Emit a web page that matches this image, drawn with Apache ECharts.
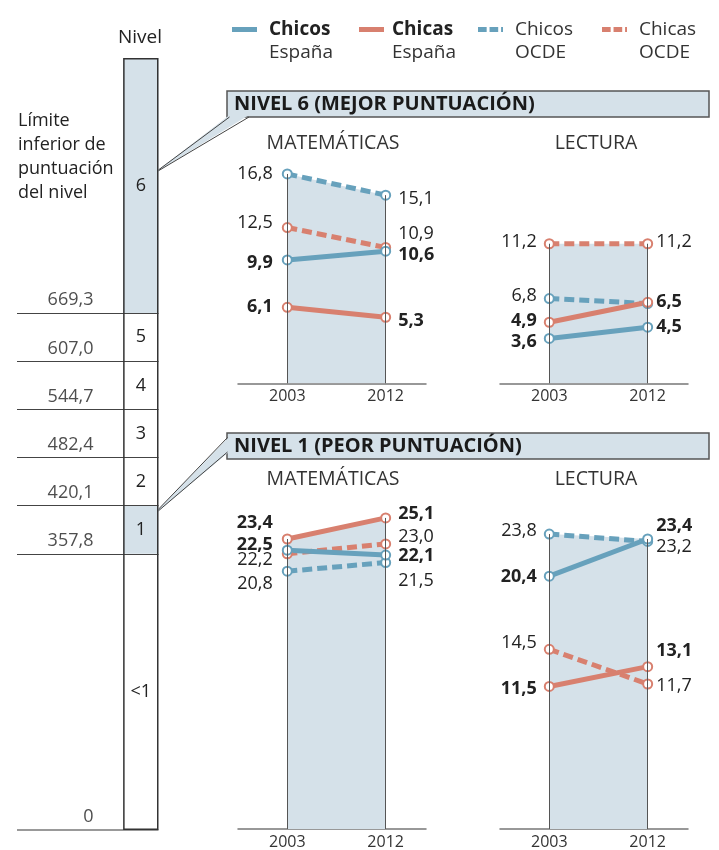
<!DOCTYPE html>
<html><head><meta charset="utf-8">
<script src="https://cdn.jsdelivr.net/npm/echarts@6/dist/echarts.min.js"></script>
<style>html,body{margin:0;padding:0;background:#fff}#c{width:719px;height:850px}</style>
</head><body><div id="c"></div>
<script>
// ---------- DATA ----------
const levelNames = ['<1', '1', '2', '3', '4', '5', '6'];
const levelLower = [0, 357.8, 420.1, 482.4, 544.7, 607.0, 669.3];
const levelScaleMax = 1000;
const highlightedLevels = ['1', '6'];

const years = [2003, 2012];
const seriesNames = ['Chicos España', 'Chicas España', 'Chicos OCDE', 'Chicas OCDE'];

// Nivel 6 – Matemáticas
const n6MatChicosEsp = [9.9, 10.6];
const n6MatChicasEsp = [6.1, 5.3];
const n6MatChicosOcde = [16.8, 15.1];
const n6MatChicasOcde = [12.5, 10.9];
// Nivel 6 – Lectura
const n6LecChicosEsp = [3.6, 4.5];
const n6LecChicasEsp = [4.9, 6.5];
const n6LecChicosOcde = [6.8, 6.4];
const n6LecChicasOcde = [11.2, 11.2];
// Nivel 1 – Matemáticas
const n1MatChicosEsp = [22.5, 22.1];
const n1MatChicasEsp = [23.4, 25.1];
const n1MatChicosOcde = [20.8, 21.5];
const n1MatChicasOcde = [22.2, 23.0];
// Nivel 1 – Lectura
const n1LecChicosEsp = [20.4, 23.4];
const n1LecChicasEsp = [11.5, 13.1];
const n1LecChicosOcde = [23.8, 23.2];
const n1LecChicasOcde = [14.5, 11.7];

// ---------- LAYOUT / STYLE ----------
const FONT = '"Open Sans", "Noto Sans", sans-serif';
const BLUE = '#67a1bc', RED = '#d8806f', SHADE = '#d5e1e9', INK = '#222';
const colors = [BLUE, RED, BLUE, RED];
const isEsp = [true, true, false, false];
const legendLefts = [232, 359, 478, 602];

const panels = [
  { grid: {left: 238, top: 134.1, width: 188, height: 249.2}, ymax: 20,
    data: [n6MatChicosEsp, n6MatChicasEsp, n6MatChicosOcde, n6MatChicasOcde],
    offsets: [[3, 4], [0, 4], [0, 4], [-5, -14]], dist: [9, 7], hide: [] },
  { grid: {left: 500, top: 134.1, width: 188, height: 249.2}, ymax: 20,
    data: [n6LecChicosEsp, n6LecChicasEsp, n6LecChicosOcde, n6LecChicasOcde],
    offsets: [[3, 0], [-1.5, 0], [-3, 0], [-2, -2]], dist: [7, 3], hide: ['2-1'] },
  { grid: {left: 238, top: 457.2, width: 188, height: 373.8}, ymax: 30,
    data: [n1MatChicosEsp, n1MatChicasEsp, n1MatChicosOcde, n1MatChicasOcde],
    offsets: [[-5.6, 1], [-16, -4], [13, 18], [6, -7]], dist: [9, 7], hide: [] },
  { grid: {left: 500, top: 457.2, width: 188, height: 373.8}, ymax: 30,
    data: [n1LecChicosEsp, n1LecChicasEsp, n1LecChicosOcde, n1LecChicasOcde],
    offsets: [[1, -13], [2, -16], [-3, 5], [-6, 2]], dist: [7, 3], hide: [] }
];

const fmt = v => (v === 0 ? '0' : v.toFixed(1).replace('.', ','));

// ---------- BUILD ----------
const grids = [{left: 17, top: 58, width: 141.5, height: 772}];
const xAxes = [{gridIndex: 0, type: 'category', data: ['a', 'b', 'c', 'd'], show: false}];
const yAxes = [{gridIndex: 0, type: 'value', min: 0, max: levelScaleMax, show: false}];
const series = [];

// level column (stacked bars, borders drawn by mark lines + outline bar)
levelNames.forEach((name, i) => {
  const upper = i + 1 < levelLower.length ? levelLower[i + 1] : levelScaleMax;
  series.push({
    type: 'bar', name: 'nivel ' + name, stack: 'niveles', xAxisIndex: 0, yAxisIndex: 0,
    barWidth: '100%', barGap: '-100%',
    data: ['-', '-', '-', upper - levelLower[i]],
    itemStyle: {color: highlightedLevels.includes(name) ? SHADE : '#fff', borderWidth: 0},
    label: {show: true, position: 'inside', formatter: () => name, fontSize: 18, color: INK, fontFamily: FONT},
    silent: true, z: 2
  });
});
// outline of the column
series.push({
  type: 'bar', name: 'contorno', xAxisIndex: 0, yAxisIndex: 0, barWidth: '100%', barGap: '-100%',
  data: ['-', '-', '-', levelScaleMax],
  itemStyle: {color: 'rgba(0,0,0,0)', borderColor: '#333', borderWidth: 1.5},
  silent: true, z: 4
});
// threshold lines + labels
series.push({
  type: 'scatter', name: 'umbrales', xAxisIndex: 0, yAxisIndex: 0,
  data: levelLower.map(v => [2, v]), symbolSize: 0,
  label: {show: true, position: 'left', distance: 12, offset: [0, -13],
    formatter: p => fmt(p.value[1]), fontSize: 18, color: INK, fontFamily: FONT},
  markLine: {
    silent: true, symbol: ['none', 'none'], label: {show: false}, z: 3,
    data: levelLower.map(v => ({yAxis: v, lineStyle: {color: v === 0 ? '#999' : '#444', width: v === 0 ? 2 : 1.2, type: 'solid'}}))
  },
  silent: true, z: 3
});

panels.forEach((p, k) => {
  const gi = k + 1;
  grids.push(p.grid);
  xAxes.push({
    gridIndex: gi, type: 'value', min: 1998.49, max: 2015.69,
    axisLine: {show: true, lineStyle: {color: '#777', width: 1.5}},
    axisTick: {show: false}, splitLine: {show: false},
    axisLabel: {customValues: years, formatter: v => String(v), fontSize: 16, color: '#333', margin: 5, fontFamily: FONT}
  });
  yAxes.push({gridIndex: gi, type: 'value', min: 0, max: p.ymax, show: false});
  const env = years.map((y, j) => Math.max(...p.data.map(d => d[j])));
  series.push({
    type: 'line', name: 'sombra' + k, xAxisIndex: gi, yAxisIndex: gi,
    data: years.map((y, j) => [y, env[j]]), symbol: 'none',
    lineStyle: {width: 0, opacity: 0}, areaStyle: {color: SHADE, opacity: 1},
    silent: true, z: 1,
    markLine: {
      silent: true, symbol: ['none', 'none'], label: {show: false},
      lineStyle: {color: '#555', width: 1, type: 'solid'},
      data: years.map((y, j) => [{coord: [y, 0]}, {coord: [y, env[j]]}])
    }
  });
  // OCDE first, España on top
  [2, 3, 0, 1].forEach(s => {
    const vals = p.data[s];
    series.push({
      type: 'line', name: seriesNames[s], xAxisIndex: gi, yAxisIndex: gi,
      data: years.map((y, j) => ({
        value: [y, vals[j]],
        label: {show: !p.hide.includes(s + '-' + j), position: j === 0 ? 'left' : 'right',
          distance: p.dist[j], offset: [0, p.offsets[s][j]]}
      })),
      symbol: 'emptyCircle', symbolSize: 9,
      lineStyle: {color: colors[s], width: 5, type: isEsp[s] ? 'solid' : [10, 5], cap: 'butt'},
      itemStyle: {color: colors[s], borderWidth: 2},
      label: {formatter: q => fmt(q.value[1]), fontSize: 18, fontFamily: FONT,
        fontWeight: isEsp[s] ? 'bold' : 'normal', color: INK},
      z: 3
    });
  });
});

const dashIcon = 'path://M0,0h9v5h-9z M12,0h9v5h-9z M24,0h2v5h-2z';
const legends = seriesNames.map((n, s) => ({
  left: legendLefts[s], top: -3, padding: 0, itemWidth: 25, itemHeight: 5, selectedMode: false,
  itemStyle: {borderWidth: 0},
  data: [{name: n, icon: isEsp[s] ? 'rect' : dashIcon}],
  formatter: name => {
    const [a, b] = name.split(' ');
    return '{e| }\n' + (b === 'España' ? '{b|' + a + '}' : '{n|' + a + '}') + '\n{n|' + b + '}';
  },
  textStyle: {fontFamily: FONT, rich: {
    e: {fontSize: 19, lineHeight: 23},
    b: {fontSize: 19, lineHeight: 23, fontWeight: 'bold', color: INK, padding: [0, 0, 0, s === 1 ? 3 : 7], fontFamily: FONT},
    n: {fontSize: 19, lineHeight: 23, color: '#333', padding: [0, 0, 0, s === 1 ? 3 : 7], fontFamily: FONT}
  }}
}));

const txt = (x, y, text, extra) => ({type: 'text', x, y, silent: true,
  style: Object.assign({text, fontSize: 18, fontFamily: FONT, fill: INK, align: 'left', verticalAlign: 'middle'}, extra || {})});

const graphic = [
  txt(140, 38, 'Nivel', {align: 'center', fontSize: 19}),
  txt(18, 109, 'Límite\ninferior de\npuntuación\ndel nivel', {verticalAlign: 'top', lineHeight: 24}),
  // banners
  {type: 'rect', shape: {x: 227, y: 91, width: 482, height: 26}, style: {fill: SHADE, stroke: '#555', lineWidth: 1.5}, silent: true},
  {type: 'polygon', shape: {points: [[153, 174], [229.5, 115], [249, 115]]}, style: {fill: SHADE}, silent: true},
  {type: 'polyline', shape: {points: [[229.5, 117], [153, 174], [249, 117]]}, style: {stroke: '#444', lineWidth: 1, fill: null}, silent: true},
  txt(234, 104, 'NIVEL 6 (MEJOR PUNTUACIÓN)', {fontSize: 20, fontWeight: 'bold', fill: '#1a1a1a'}),
  {type: 'rect', shape: {x: 227, y: 433, width: 482, height: 26}, style: {fill: SHADE, stroke: '#555', lineWidth: 1.5}, silent: true},
  {type: 'polygon', shape: {points: [[150, 518], [229, 437], [229, 452]]}, style: {fill: SHADE}, silent: true},
  {type: 'polyline', shape: {points: [[227.5, 437.5], [150, 518], [227.5, 452]]}, style: {stroke: '#444', lineWidth: 1, fill: null}, silent: true},
  txt(234, 446, 'NIVEL 1 (PEOR PUNTUACIÓN)', {fontSize: 20, fontWeight: 'bold', fill: '#1a1a1a'}),
  // panel titles
  txt(333, 143, 'MATEMÁTICAS', {align: 'center', fontSize: 19.5, fill: '#333'}),
  txt(596, 143, 'LECTURA', {align: 'center', fontSize: 19.5, fill: '#333'}),
  txt(333, 479, 'MATEMÁTICAS', {align: 'center', fontSize: 19.5, fill: '#333'}),
  txt(596, 479, 'LECTURA', {align: 'center', fontSize: 19.5, fill: '#333'})
];

const chart = echarts.init(document.getElementById('c'), null, {renderer: 'canvas'});
chart.setOption({
  animation: false,
  backgroundColor: '#fff',
  textStyle: {fontFamily: FONT},
  grid: grids, xAxis: xAxes, yAxis: yAxes,
  legend: legends, graphic, series
});
</script>
</body></html>
